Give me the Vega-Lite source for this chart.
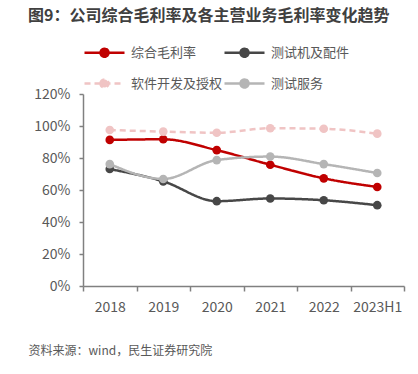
{
  "$schema": "https://vega.github.io/schema/vega-lite/v6.json",
  "width": 321,
  "height": 192,
  "autosize": {"type": "none"},
  "padding": {"left": 83, "top": 94, "right": 14, "bottom": 88},
  "background": "white",
  "config": {
    "view": {"stroke": null},
    "font": "Noto Sans CJK SC"
  },
  "title": {
    "text": "图9：公司综合毛利率及各主营业务毛利率变化趋势",
    "frame": "group",
    "anchor": "start",
    "offset": 7,
    "dx": -55,
    "fontSize": 16,
    "fontWeight": "bold",
    "color": "#404040",
    "font": "Noto Sans CJK SC"
  },
  "data": {
    "values": [
      {"year": "2018", "series": "综合毛利率", "value": 0.913},
      {"year": "2019", "series": "综合毛利率", "value": 0.917},
      {"year": "2020", "series": "综合毛利率", "value": 0.849},
      {"year": "2021", "series": "综合毛利率", "value": 0.758},
      {"year": "2022", "series": "综合毛利率", "value": 0.673},
      {"year": "2023H1", "series": "综合毛利率", "value": 0.619},
      {"year": "2018", "series": "测试机及配件", "value": 0.731},
      {"year": "2019", "series": "测试机及配件", "value": 0.654},
      {"year": "2020", "series": "测试机及配件", "value": 0.530},
      {"year": "2021", "series": "测试机及配件", "value": 0.547},
      {"year": "2022", "series": "测试机及配件", "value": 0.536},
      {"year": "2023H1", "series": "测试机及配件", "value": 0.505},
      {"year": "2018", "series": "软件开发及授权", "value": 0.975},
      {"year": "2019", "series": "软件开发及授权", "value": 0.965},
      {"year": "2020", "series": "软件开发及授权", "value": 0.958},
      {"year": "2021", "series": "软件开发及授权", "value": 0.986},
      {"year": "2022", "series": "软件开发及授权", "value": 0.983},
      {"year": "2023H1", "series": "软件开发及授权", "value": 0.952},
      {"year": "2018", "series": "测试服务", "value": 0.762},
      {"year": "2019", "series": "测试服务", "value": 0.669},
      {"year": "2020", "series": "测试服务", "value": 0.787},
      {"year": "2021", "series": "测试服务", "value": 0.809},
      {"year": "2022", "series": "测试服务", "value": 0.762},
      {"year": "2023H1", "series": "测试服务", "value": 0.706}
    ]
  },
  "encoding": {
    "x": {
      "field": "year",
      "type": "nominal",
      "sort": null,
      "bandPosition": 0.5,
      "scale": {"type": "band", "paddingInner": 0, "paddingOuter": 0},
      "axis": {
        "labelAngle": 0,
        "tickBand": "extent",
        "labelFontSize": 14,
        "labelColor": "#595959",
        "labelPadding": 9,
        "domainColor": "#808080",
        "domainWidth": 1.5,
        "tickColor": "#808080",
        "tickWidth": 1.5,
        "tickSize": 5,
        "title": "资料来源：wind，民生证券研究院",
        "titleAnchor": "start",
        "titleAlign": "left",
        "titleBaseline": "middle",
        "titleX": -55,
        "titleY": 64,
        "titleFontSize": 12,
        "titleFontWeight": "normal",
        "titleColor": "#595959"
      }
    },
    "y": {
      "field": "value",
      "type": "quantitative",
      "scale": {"domain": [0, 1.2], "nice": false},
      "axis": {
        "values": [0, 0.2, 0.4, 0.6, 0.8, 1.0, 1.2],
        "format": ".0%",
        "title": null,
        "grid": false,
        "labelFontSize": 14,
        "labelColor": "#595959",
        "labelPadding": 9,
        "domainColor": "#808080",
        "domainWidth": 1.5,
        "tickColor": "#808080",
        "tickWidth": 1.5,
        "tickSize": 4
      }
    },
    "color": {
      "field": "series",
      "type": "nominal",
      "title": null,
      "scale": {
        "domain": ["综合毛利率", "测试机及配件", "软件开发及授权", "测试服务"],
        "range": ["#C00000", "#474747", "#F0C4C4", "#B5B5B5"]
      },
      "legend": {
        "orient": "none",
        "direction": "horizontal",
        "legendX": 0,
        "legendY": -63,
        "columns": 2,
        "columnPadding": -4,
        "rowPadding": -20,
        "padding": 0,
        "labelFontSize": 13,
        "labelColor": "#595959",
        "labelOffset": 5,
        "symbolType": "M-1,0H1M-0.2,0A0.2,0.2 0 1,1 0.2,0A0.2,0.2 0 1,1 -0.2,0Z",
        "symbolSize": 1600,
        "symbolStrokeWidth": 2.5,
        "encode": {
          "symbols": {
            "update": {
              "fill": {"scale": "color", "field": "value"},
              "stroke": {"scale": "color", "field": "value"}
            }
          }
        }
      }
    }
  },
  "layer": [
    {
      "mark": {"type": "line", "interpolate": "monotone", "strokeWidth": 2.5},
      "encoding": {
        "strokeDash": {
          "field": "series",
          "type": "nominal",
          "title": null,
          "scale": {
            "domain": ["综合毛利率", "测试机及配件", "软件开发及授权", "测试服务"],
            "range": [[1, 0], [1, 0], [6, 4], [1, 0]]
          }
        }
      }
    },
    {
      "mark": {"type": "point", "filled": true, "opacity": 1, "size": 75}
    }
  ]
}
